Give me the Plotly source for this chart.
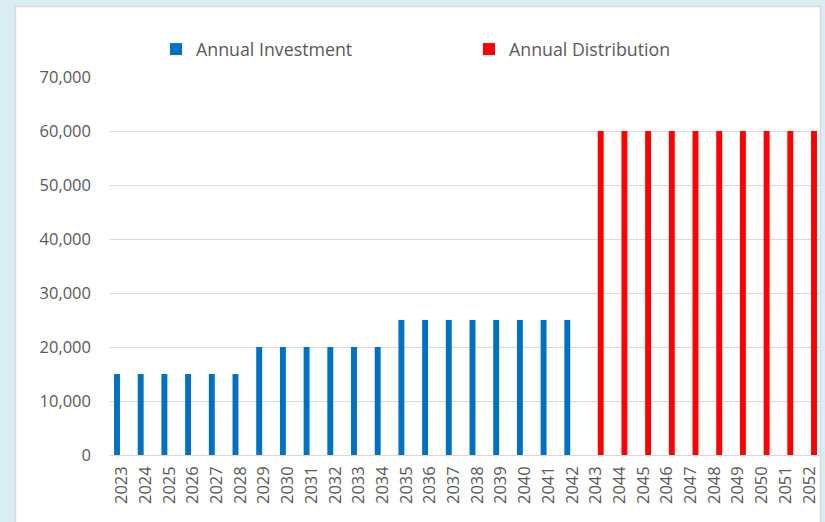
import plotly.graph_objects as go

years = [str(y) for y in range(2023, 2053)]
investment = [15000]*6 + [20000]*6 + [25000]*8 + [None]*10
distribution = [None]*20 + [60000]*10
y_ticks = [0, 10000, 20000, 30000, 40000, 50000, 60000, 70000]
y_tick_labels = ["0", "10,000", "20,000", "30,000", "40,000", "50,000", "60,000", "70,000"]

W, H = 825, 522
L, R, T, B = 110, 4, 77, 67
PW, PH = W - L - R, H - T - B
font = "Open Sans, sans-serif"
grey = "#595959"

fig = go.Figure()
fig.add_trace(go.Bar(x=years, y=investment, name="Annual Investment",
                     marker=dict(color="#0070c0", line=dict(width=0)),
                     width=0.25, offset=-0.33))
fig.add_trace(go.Bar(x=years, y=distribution, name="Annual Distribution",
                     marker=dict(color="#ff0000", line=dict(width=0)),
                     width=0.25, offset=0.08))

fig.update_layout(
    width=W, height=H,
    margin=dict(l=L, r=R, t=T, b=B, autoexpand=False),
    paper_bgcolor="#daedf3",
    plot_bgcolor="#ffffff",
    barmode="overlay",
    font=dict(family=font, size=16.5, color=grey),
    showlegend=True,
    legend=dict(orientation="h", x=(156 - L) / PW, y=(H - B - 49.5) / PH,
                xanchor="left", yanchor="middle",
                entrywidth=268, entrywidthmode="pixels",
                font=dict(family=font, size=17.8, color=grey),
                bgcolor="rgba(0,0,0,0)", traceorder="normal"),
    xaxis=dict(type="category", range=[-0.5, 29.5], showgrid=False,
               tickangle=-90, tickfont=dict(family=font, size=16.5, color=grey),
               showline=False, ticks="", zeroline=False, automargin=False,
               ticklabelstandoff=7),
    yaxis=dict(range=[0, 70000], tickvals=y_ticks, ticktext=y_tick_labels,
               showgrid=True, gridcolor="#d9d9d9", gridwidth=1,
               zeroline=True, zerolinecolor="#d9d9d9", zerolinewidth=1,
               ticks="", ticklabelstandoff=18, automargin=False,
               tickfont=dict(family=font, size=16.5, color=grey), showline=False),
    shapes=[dict(type="rect", xref="paper", yref="paper",
                 x0=(15.5 - L) / PW, x1=(820.5 - L) / PW,
                 y0=(H - B - 540) / PH, y1=(H - B - 6.5) / PH,
                 fillcolor="#ffffff", line=dict(color="#d9d9d9", width=1.5),
                 layer="below")],
)

fig.write_html("out.html", config={"displayModeBar": False},
               post_script="document.body.style.margin='0';document.body.style.padding='0';")
